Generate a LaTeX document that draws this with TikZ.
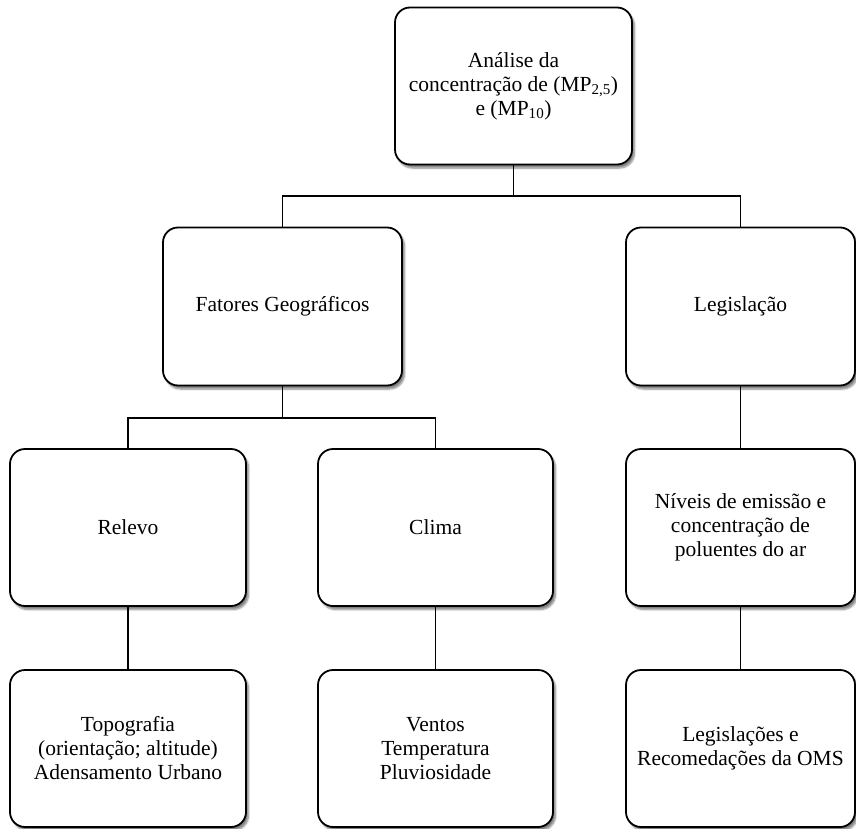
\documentclass[tikz,border=0pt]{standalone}
\usepackage{fontspec}
\setmainfont{Liberation Serif}
\usetikzlibrary{shadows.blur}
\begin{document}
\begin{tikzpicture}[x=1pt,y=-1pt,
  box/.style={draw=black, line width=1.8pt, rounded corners=15pt, fill=white,
    blur shadow={shadow xshift=2.5pt, shadow yshift=-3.5pt, shadow blur steps=6, shadow opacity=50},
    align=center, font=\fontsize{21.5}{24}\selectfont, inner sep=2pt},
  conn/.style={draw=black, line width=1.8pt}]
\useasboundingbox (0,0) rectangle (856,829);
\node[box, minimum width=237pt, minimum height=157pt] (top) at (513.5,86) {Análise da\\concentração de (MP\textsubscript{2,5})\\e (MP\textsubscript{10})};
\node[box, minimum width=239pt, minimum height=158pt] (fat) at (282.5,306.5) {Fatores Geográficos};
\node[box, minimum width=229pt, minimum height=158pt] (leg) at (740.5,306.5) {Legislação};
\node[box, minimum width=236pt, minimum height=157pt] (rel) at (128,527.5) {Relevo};
\node[box, minimum width=235pt, minimum height=157pt] (cli) at (435.5,527.5) {Clima};
\node[box, minimum width=229pt, minimum height=157pt] (niv) at (740.5,527.5) {Níveis de emissão e\\concentração de\\poluentes do ar};
\node[box, minimum width=236pt, minimum height=157pt] (top2) at (128,748.5) {Topografia\\(orientação; altitude)\\Adensamento Urbano};
\node[box, minimum width=235pt, minimum height=157pt] (ven) at (435.5,748.5) {Ventos\\Temperatura\\Pluviosidade};
\node[box, minimum width=229pt, minimum height=157pt] (lgs) at (740.5,748.5) {Legislações e\\Recomedações da OMS};
\coordinate (j1) at (513.5,196);
\coordinate (j2) at (282.5,418);
\draw[conn] (top.south) -- (j1);
\draw[conn] (j1) -| (fat.north);
\draw[conn] (j1) -| (leg.north);
\draw[conn] (fat.south) -- (j2);
\draw[conn] (j2) -| (rel.north);
\draw[conn] (j2) -| (cli.north);
\draw[conn] (leg.south) -- (niv.north);
\draw[conn] (rel.south) -- (top2.north);
\draw[conn] (cli.south) -- (ven.north);
\draw[conn] (niv.south) -- (lgs.north);
\end{tikzpicture}
\end{document}
